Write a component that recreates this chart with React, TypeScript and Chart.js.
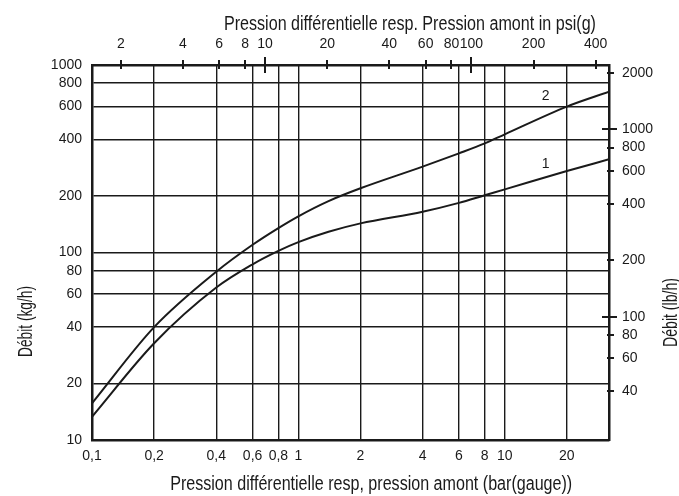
import React, { useEffect, useRef } from 'react';
import { Chart, registerables } from 'chart.js';

Chart.register(...registerables);

// ---- data ----
const PRESSURE_BAR = [0.1, 0.2, 0.4, 0.6, 0.8, 1, 1.4, 2, 4, 6, 8, 10, 20, 32];
const FLOW_CURVE_1 = [13.3, 32.8, 65, 86.5, 102, 113.6, 129, 143, 165, 184, 202, 217, 272, 314];
const FLOW_CURVE_2 = [15.7, 40, 79, 110, 135, 156, 188, 220, 287, 338, 382, 427, 600, 720];
const SERIES_NAMES = ['1', '2'];
const SERIES_LABEL_X = [15.8, 15.8];
const SERIES_LABEL_Y = [296, 684];

// ---- axes ----
const BAR_MIN = 0.1;
const BAR_MAX = 32;
const KGH_MIN = 10;
const KGH_MAX = 1000;
const PSI_PER_BAR = 14.5038;
const LB_PER_KG = 2.20462;

const BAR_TICKS = [0.1, 0.2, 0.4, 0.6, 0.8, 1, 2, 4, 6, 8, 10, 20];
const KGH_TICKS = [10, 20, 40, 60, 80, 100, 200, 400, 600, 800, 1000];
const PSI_TICKS = [2, 4, 6, 8, 10, 20, 40, 60, 80, 100, 200, 400];
const PSI_MAJOR = [10, 100];
const LBH_TICKS = [40, 60, 80, 100, 200, 400, 600, 800, 1000, 2000];
const LBH_MAJOR = [100, 1000];

const TITLE_BOTTOM = 'Pression différentielle resp, pression amont (bar(gauge))';
const TITLE_TOP = 'Pression différentielle resp. Pression amont in psi(g)';
const TITLE_LEFT = 'Débit (kg/h)';
const TITLE_RIGHT = 'Débit (lb/h)';

const INK = '#1a1a1a';
const TICK_FONT = { family: '"Liberation Sans", Arial, sans-serif', size: 14 };
const TITLE_FONT = '19.5px "Liberation Sans Narrow", "Liberation Sans", Arial, sans-serif';

function drawFittedText(
  ctx: CanvasRenderingContext2D,
  text: string,
  x: number,
  y: number,
  width: number,
  rotation: number
) {
  ctx.save();
  ctx.translate(x, y);
  ctx.rotate(rotation);
  ctx.font = TITLE_FONT;
  const w = ctx.measureText(text).width;
  ctx.scale(width / w, 1);
  ctx.textAlign = 'center';
  ctx.textBaseline = 'alphabetic';
  ctx.fillStyle = INK;
  ctx.fillText(text, 0, 0);
  ctx.restore();
}

const decorPlugin = {
  id: 'decor',
  afterDraw(chart: any) {
    const ctx: CanvasRenderingContext2D = chart.ctx;
    const { x, y, x2, y2 } = chart.scales;
    const ca = chart.chartArea;

    // tick marks crossing the top and right axes
    ctx.save();
    ctx.strokeStyle = INK;
    ctx.lineWidth = 2;
    ctx.beginPath();
    for (const v of PSI_TICKS) {
      const px = Math.round(x2.getPixelForValue(v));
      const major = PSI_MAJOR.includes(v);
      ctx.moveTo(px, ca.top - (major ? 8 : 5));
      ctx.lineTo(px, ca.top + (major ? 8 : 4));
    }
    for (const v of LBH_TICKS) {
      const py = Math.round(y2.getPixelForValue(v));
      const major = LBH_MAJOR.includes(v);
      ctx.moveTo(ca.right - (major ? 7 : 2), py);
      ctx.lineTo(ca.right + (major ? 8 : 5), py);
    }
    ctx.stroke();
    ctx.restore();

    // curve labels
    ctx.save();
    ctx.font = '14px "Liberation Sans", Arial, sans-serif';
    ctx.fillStyle = INK;
    ctx.textAlign = 'center';
    ctx.textBaseline = 'middle';
    SERIES_NAMES.forEach((n, i) => {
      ctx.fillText(n, x.getPixelForValue(SERIES_LABEL_X[i]), y.getPixelForValue(SERIES_LABEL_Y[i]));
    });
    ctx.restore();

    // axis titles
    const W = chart.width;
    const H = chart.height;
    drawFittedText(ctx, TITLE_TOP, ca.left + 0.615 * (ca.right - ca.left), 29.5, 372, 0);
    drawFittedText(ctx, TITLE_BOTTOM, ca.left + 0.54 * (ca.right - ca.left), H - 6, 402, 0);
    drawFittedText(ctx, TITLE_LEFT, 32, ca.top + 0.684 * (ca.bottom - ca.top), 71, -Math.PI / 2);
    drawFittedText(ctx, TITLE_RIGHT, W - 2.5, ca.top + 0.66 * (ca.bottom - ca.top), 69, -Math.PI / 2);
  },
};

const fmtComma = (v: number) => String(v).replace('.', ',');

export default function App() {
  const ref = useRef<HTMLCanvasElement | null>(null);

  useEffect(() => {
    if (!ref.current) return;
    const mkSet = (name: string, values: number[]) => ({
      label: name,
      data: PRESSURE_BAR.map((p, i) => ({ x: p, y: values[i] })),
      borderColor: INK,
      borderWidth: 2,
      pointRadius: 0,
      fill: false,
      cubicInterpolationMode: 'monotone',
      xAxisID: 'x',
      yAxisID: 'y',
    });
    const chart = new Chart(ref.current, {
      type: 'line',
      data: {
        datasets: [mkSet(SERIES_NAMES[0], FLOW_CURVE_1), mkSet(SERIES_NAMES[1], FLOW_CURVE_2)],
      },
      options: {
        animation: false,
        responsive: false,
        layout: { padding: 0 },
        plugins: { legend: { display: false }, tooltip: { enabled: false } },
        scales: {
          x: {
            type: 'logarithmic',
            position: 'bottom',
            min: BAR_MIN,
            max: BAR_MAX,
            afterBuildTicks: (s: any) => {
              s.ticks = BAR_TICKS.map((v) => ({ value: v }));
            },
            afterFit: (s: any) => {
              s.height = 56;
            },
            ticks: {
              autoSkip: false,
              maxRotation: 0,
              minRotation: 0,
              padding: 8,
              color: INK,
              font: TICK_FONT,
              callback: (v: any) => fmtComma(Number(v)),
            },
            grid: { color: INK, lineWidth: 1.4, drawTicks: false },
            border: { display: true, color: INK, width: 2.5 },
          },
          y: {
            type: 'logarithmic',
            position: 'left',
            min: KGH_MIN,
            max: KGH_MAX,
            afterBuildTicks: (s: any) => {
              s.ticks = KGH_TICKS.map((v) => ({ value: v }));
            },
            afterFit: (s: any) => {
              s.width = 92;
            },
            ticks: {
              autoSkip: false,
              padding: 10,
              color: INK,
              font: TICK_FONT,
              callback: (v: any) => String(v),
            },
            grid: { color: INK, lineWidth: 1.4, drawTicks: false },
            border: { display: true, color: INK, width: 2.5 },
          },
          x2: {
            type: 'logarithmic',
            position: 'top',
            min: BAR_MIN * PSI_PER_BAR,
            max: BAR_MAX * PSI_PER_BAR,
            afterBuildTicks: (s: any) => {
              s.ticks = PSI_TICKS.map((v) => ({ value: v }));
            },
            afterFit: (s: any) => {
              s.height = 65;
            },
            ticks: {
              autoSkip: false,
              maxRotation: 0,
              minRotation: 0,
              padding: 12,
              color: INK,
              font: TICK_FONT,
              callback: (v: any) => String(v),
            },
            grid: { display: true, drawOnChartArea: false, drawTicks: false, color: INK },
            border: { display: true, color: INK, width: 2.5 },
          },
          y2: {
            type: 'logarithmic',
            position: 'right',
            min: KGH_MIN * LB_PER_KG,
            max: KGH_MAX * LB_PER_KG,
            afterBuildTicks: (s: any) => {
              s.ticks = LBH_TICKS.map((v) => ({ value: v }));
            },
            afterFit: (s: any) => {
              s.width = 70;
            },
            ticks: {
              autoSkip: false,
              padding: 13,
              color: INK,
              font: TICK_FONT,
              callback: (v: any) => String(v),
            },
            grid: { display: true, drawOnChartArea: false, drawTicks: false, color: INK },
            border: { display: true, color: INK, width: 2.5 },
          },
        },
      },
      plugins: [decorPlugin],
    } as any);
    return () => chart.destroy();
  }, []);

  return (
    <div style={{ position: 'absolute', left: 0, top: 0, width: 679, height: 496, background: '#fff' }}>
      <canvas ref={ref} width={679} height={496} style={{ display: 'block' }} />
    </div>
  );
}
